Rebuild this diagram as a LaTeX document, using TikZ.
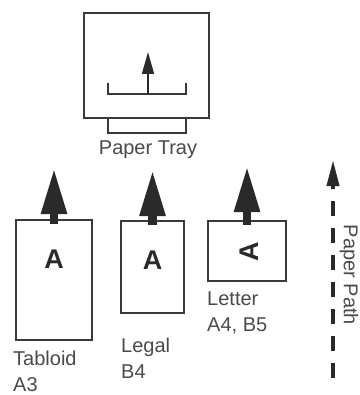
\documentclass[tikz,border=0pt]{standalone}
\usepackage{fontspec}
\setmainfont{Liberation Sans}
\usetikzlibrary{arrows.meta}
\definecolor{linegray}{HTML}{3A3A3A}
\definecolor{arrowgray}{HTML}{2A2A2A}
\definecolor{textgray}{HTML}{4A4A4A}
\tikzset{
  box/.style={draw=linegray, line width=1.8pt, inner sep=0pt, fill=white},
  lbl/.style={text=textgray, font=\fontsize{20}{26}\selectfont, inner sep=0pt, align=left},
  bigA/.style={text=arrowgray, font=\fontsize{27}{30}\selectfont\bfseries, inner sep=0pt},
  bigarrow/.style={draw=arrowgray, line width=8.5pt, -{Triangle[length=46pt,width=24pt]}},
  smallarrow/.style={draw=arrowgray, line width=1.6pt, -{Triangle[length=22pt,width=12pt]}},
  patharrow/.style={draw=arrowgray, line width=3.8pt, dash pattern=on 15pt off 12pt, -{Triangle[length=26pt,width=12pt]}},
  trayline/.style={draw=linegray, line width=1.8pt}
}
\begin{document}
\begin{tikzpicture}[x=1pt, y=-1pt]
\useasboundingbox (0,0) rectangle (359,395);
% printer with tray
\node[box, minimum width=125pt, minimum height=105pt] (printer) at (146.5,65.5) {};
\coordinate (trayL) at (108,118);
\coordinate (trayR) at (186,118);
\draw[trayline] (trayL) -- (108,133) -- (186,133) -- (trayR);
\coordinate (brL) at (108,83);
\coordinate (brR) at (186,83);
\coordinate (brC) at (148,94);
\coordinate (brTip) at (148,52);
\draw[trayline] (brL) -- (108,94) -- (186,94) -- (brR);
\draw[smallarrow] (brC) -- (brTip);
\node[lbl, anchor=base] (traylbl) at (148,155) {Paper Tray};
% paper boxes
\node[box, minimum width=76pt, minimum height=120pt] (tab) at (54,280) {};
\node[box, minimum width=63pt, minimum height=92pt] (leg) at (152.5,267) {};
\node[box, minimum width=78pt, minimum height=60pt] (let) at (247,251) {};
\node[bigA] (tabA) at (54,259) {A};
\node[bigA] (legA) at (152.5,260) {A};
\node[bigA, rotate=90] (letA) at (249,252) {A};
% feed arrows
\coordinate (tabtip) at (54,168);
\coordinate (legtip) at (152.5,170);
\coordinate (lettip) at (247,166);
\draw[bigarrow] ([yshift=-5pt]tab.north) -- (tabtip);
\draw[bigarrow] ([yshift=-5pt]leg.north) -- (legtip);
\draw[bigarrow] ([yshift=-5pt]let.north) -- (lettip);
% labels
\node[lbl, anchor=north west] (tablbl) at (13,351) {Tabloid\\A3};
\node[lbl, anchor=north west] (leglbl) at (121,338) {Legal\\B4};
\node[lbl, anchor=north west] (letlbl) at (207,292) {Letter\\A4, B5};
% paper path
\coordinate (ppBot) at (333,378);
\coordinate (ppTop) at (333,160);
\draw[patharrow] (ppBot) -- (ppTop);
\node[lbl, rotate=-90] (pplbl) at (349,275) {Paper Path};
\end{tikzpicture}
\end{document}
